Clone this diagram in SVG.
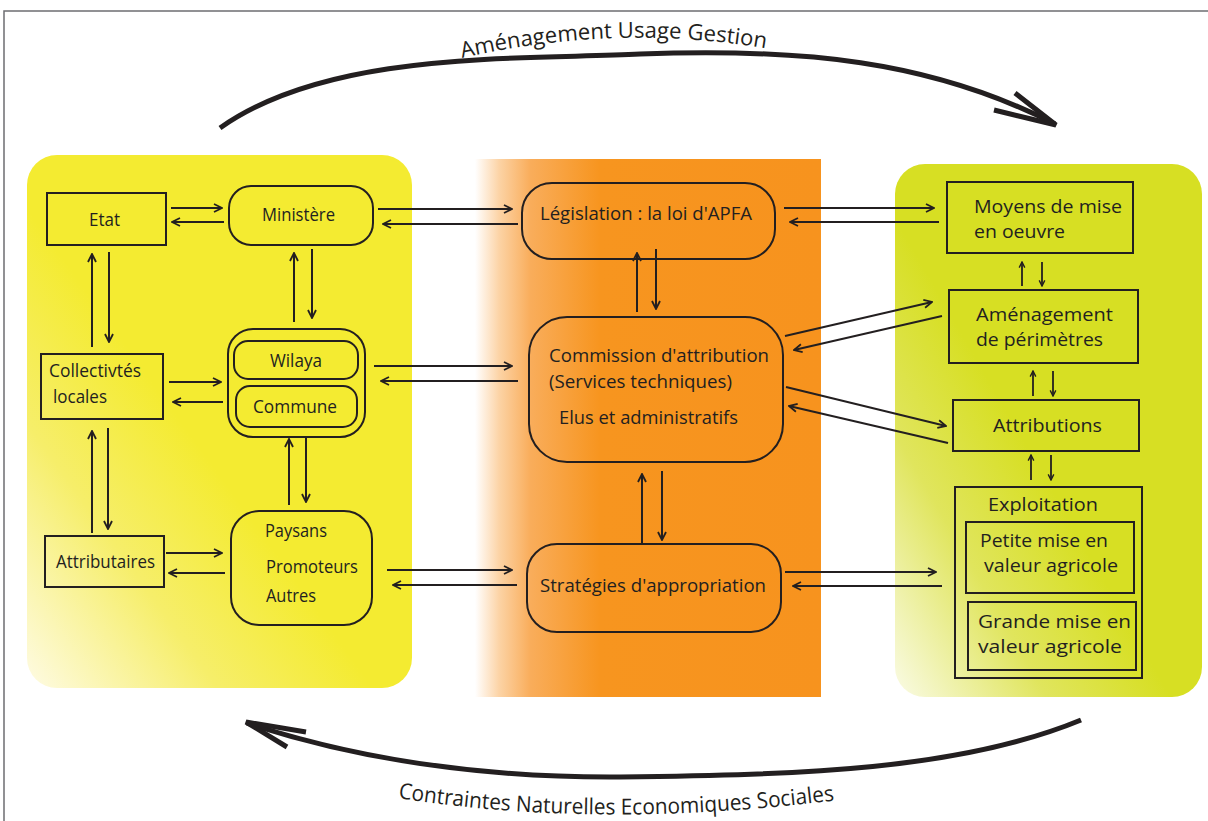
<svg xmlns="http://www.w3.org/2000/svg" width="1208" height="821" viewBox="0 0 1208 821">
<defs>
<linearGradient id="gL" x1="0" y1="1" x2="0.45" y2="0.55">
<stop offset="0" stop-color="#fefbe4"/><stop offset="0.55" stop-color="#f6ee6a"/><stop offset="1" stop-color="#f4eb31"/>
</linearGradient>
<linearGradient id="gR" x1="0" y1="1" x2="0.45" y2="0.55">
<stop offset="0" stop-color="#fafbe6"/><stop offset="0.55" stop-color="#e0e55d"/><stop offset="1" stop-color="#d7df23"/>
</linearGradient>
<linearGradient id="gC" x1="0" y1="0" x2="1" y2="0">
<stop offset="0" stop-color="#ffffff"/><stop offset="0.07" stop-color="#fcd3a5"/><stop offset="0.16" stop-color="#f9ad5b"/><stop offset="0.36" stop-color="#f7951f"/><stop offset="1" stop-color="#f7931e"/>
</linearGradient>
<marker id="a" viewBox="0 0 10 10" refX="9" refY="5" markerWidth="10" markerHeight="10" orient="auto" markerUnits="userSpaceOnUse">
<path d="M1,1 L9,5 L1,9" fill="none" stroke="#231f20" stroke-width="1.8"/>
</marker>
<marker id="s" viewBox="0 0 10 10" refX="9" refY="5" markerWidth="7" markerHeight="8" orient="auto" markerUnits="userSpaceOnUse">
<path d="M1,1 L9,5 L1,9" fill="none" stroke="#231f20" stroke-width="2"/>
</marker>
<path id="tp1" d="M462 58 Q 620 22 775 50"/>
<path id="tp2" d="M398 798 Q 600 830 838 800"/>
</defs>
<style>
.box{fill:none;stroke:#231f20;stroke-width:2}
.t{font-family:"Open Sans",sans-serif;font-size:18.5px;fill:#231f20}
.l{font-size:17.5px}
.r{font-size:18px}
.ln{fill:none;stroke:#231f20;stroke-width:2;marker-end:url(#a)}
.sm{fill:none;stroke:#231f20;stroke-width:1.8;marker-end:url(#s)}
.big{fill:none;stroke:#231f20;stroke-width:5;stroke-linecap:butt}
.arc{font-family:"Open Sans",sans-serif;font-size:22px;fill:#231f20}
</style>
<rect width="1208" height="821" fill="#ffffff"/>
<path d="M4 821 V11 H1208" fill="none" stroke="#6d6e71" stroke-width="1.5"/>

<g id="panels">
<rect x="27" y="155" width="385" height="533" rx="30" fill="url(#gL)"/>
<rect x="475" y="159" width="346" height="538" fill="url(#gC)"/>
<rect x="895" y="164" width="307" height="533" rx="30" fill="url(#gR)"/>
</g>

<g id="cycle">
<path class="big" d="M220 128 C 330 50, 520 60, 640 54 C 800 48, 930 60, 1055 124"/>
<path class="big" d="M1015 93 L1056 125 L994 110"/>
<text class="arc"><textPath href="#tp1" textLength="306" lengthAdjust="spacingAndGlyphs">Aménagement Usage Gestion</textPath></text>
<path class="big" d="M1081 720 C 960 770, 800 775, 620 777 C 480 778, 360 760, 247 723"/>
<path class="big" d="M306 732 L246 722 L287 747"/>
<text class="arc"><textPath href="#tp2" textLength="438" lengthAdjust="spacingAndGlyphs">Contraintes Naturelles Economiques Sociales</textPath></text>
</g>

<g id="etat"><rect class="box" x="47" y="193" width="119" height="52"/><text class="t l" x="89" y="226" textLength="31" lengthAdjust="spacingAndGlyphs">Etat</text></g>
<g id="ministere"><rect class="box" x="229" y="186" width="144" height="59" rx="22"/><text class="t l" x="262" y="221" textLength="73" lengthAdjust="spacingAndGlyphs">Ministère</text></g>
<g id="collectivites"><rect class="box" x="41" y="354" width="122" height="65"/><text class="t l" x="49" y="377" textLength="92" lengthAdjust="spacingAndGlyphs">Collectivtés</text><text class="t l" x="53" y="403" textLength="54" lengthAdjust="spacingAndGlyphs">locales</text></g>
<g id="wilaya-commune"><rect class="box" x="228" y="329" width="137" height="108" rx="25"/>
<rect class="box" x="234" y="341" width="124" height="38" rx="14"/><text class="t l" x="270" y="367" textLength="52" lengthAdjust="spacingAndGlyphs">Wilaya</text>
<rect class="box" x="236" y="386" width="121" height="41" rx="14"/><text class="t l" x="253" y="413" textLength="84" lengthAdjust="spacingAndGlyphs">Commune</text></g>
<g id="attributaires"><rect class="box" x="45" y="536" width="119" height="51"/><text class="t l" x="56" y="568" textLength="99" lengthAdjust="spacingAndGlyphs">Attributaires</text></g>
<g id="paysans"><rect class="box" x="231" y="511" width="141" height="114" rx="28"/><text class="t l" x="265" y="537" textLength="62" lengthAdjust="spacingAndGlyphs">Paysans</text><text class="t l" x="266" y="573" textLength="92" lengthAdjust="spacingAndGlyphs">Promoteurs</text><text class="t l" x="266" y="602" textLength="50" lengthAdjust="spacingAndGlyphs">Autres</text></g>

<g id="legislation"><rect class="box" x="522" y="183" width="253" height="76" rx="30"/><text class="t" x="540" y="220" textLength="212" lengthAdjust="spacingAndGlyphs">Législation : la loi d'APFA</text></g>
<g id="commission"><rect class="box" x="529" y="317" width="254" height="145" rx="38"/><text class="t" x="549" y="362" textLength="220" lengthAdjust="spacingAndGlyphs">Commission d'attribution</text><text class="t" x="549" y="388" textLength="183" lengthAdjust="spacingAndGlyphs">(Services techniques)</text><text class="t" x="559" y="424" textLength="179" lengthAdjust="spacingAndGlyphs">Elus et administratifs</text></g>
<g id="strategies"><rect class="box" x="527" y="544" width="254" height="88" rx="30"/><text class="t" x="540" y="592" textLength="226" lengthAdjust="spacingAndGlyphs">Stratégies d'appropriation</text></g>

<g id="moyens"><rect class="box" x="947" y="182" width="186" height="71"/><text class="t r" x="974" y="213" textLength="148" lengthAdjust="spacingAndGlyphs">Moyens de mise</text><text class="t r" x="974" y="238" textLength="91" lengthAdjust="spacingAndGlyphs">en oeuvre</text></g>
<g id="amenagement"><rect class="box" x="949" y="290" width="189" height="73"/><text class="t r" x="976" y="321" textLength="137" lengthAdjust="spacingAndGlyphs">Aménagement</text><text class="t r" x="976" y="346" textLength="127" lengthAdjust="spacingAndGlyphs">de périmètres</text></g>
<g id="attributions"><rect class="box" x="953" y="400" width="186" height="51"/><text class="t r" x="993" y="432" textLength="109" lengthAdjust="spacingAndGlyphs">Attributions</text></g>
<g id="exploitation"><rect class="box" x="955" y="487" width="187" height="191"/><text class="t r" x="988" y="511" textLength="110" lengthAdjust="spacingAndGlyphs">Exploitation</text>
<rect class="box" x="966" y="522" width="168" height="71"/><text class="t r" x="980" y="547" textLength="128" lengthAdjust="spacingAndGlyphs">Petite mise en</text><text class="t r" x="984" y="572" textLength="134" lengthAdjust="spacingAndGlyphs">valeur agricole</text>
<rect class="box" x="968" y="602" width="168" height="68"/><text class="t r" x="978" y="628" textLength="153" lengthAdjust="spacingAndGlyphs">Grande mise en</text><text class="t r" x="978" y="653" textLength="144" lengthAdjust="spacingAndGlyphs">valeur agricole</text></g>

<g id="connectors">
<path class="ln" d="M171 208 H222"/>
<path class="ln" d="M224 222 H172"/>
<path class="ln" d="M378 209 H512"/>
<path class="ln" d="M518 224 H383"/>
<path class="ln" d="M784 208 H934"/>
<path class="ln" d="M939 222 H790"/>
<path class="ln" d="M92 347 V254"/>
<path class="ln" d="M109 252 V342"/>
<path class="ln" d="M294 322 V253"/>
<path class="ln" d="M312 249 V318"/>
<path class="ln" d="M169 382 H221"/>
<path class="ln" d="M223 402 H173"/>
<path class="ln" d="M374 366 H512"/>
<path class="ln" d="M518 381 H381"/>
<path class="ln" d="M92 533 V431"/>
<path class="ln" d="M108 428 V529"/>
<path class="ln" d="M289 505 V439"/>
<path class="ln" d="M306 438 V502"/>
<path class="ln" d="M166 553 H222"/>
<path class="ln" d="M225 573 H169"/>
<path class="ln" d="M387 570 H512"/>
<path class="ln" d="M517 585 H393"/>
<path class="ln" d="M785 572 H936"/>
<path class="ln" d="M942 586 H793"/>
<path class="ln" d="M637 312 V253"/>
<path class="ln" d="M656 249 V309"/>
<path class="ln" d="M642 543 V474"/>
<path class="ln" d="M662 471 V540"/>
<path class="ln" d="M785 336 L932 302"/>
<path class="ln" d="M942 316 L794 350"/>
<path class="ln" d="M786 387 L946 426"/>
<path class="ln" d="M948 443 L789 406"/>
<path class="sm" d="M1022 286 V262"/>
<path class="sm" d="M1042 262 V286"/>
<path class="sm" d="M1033 396 V371"/>
<path class="sm" d="M1053 371 V396"/>
<path class="sm" d="M1031 480 V455"/>
<path class="sm" d="M1051 455 V480"/>
</g>
</svg>
